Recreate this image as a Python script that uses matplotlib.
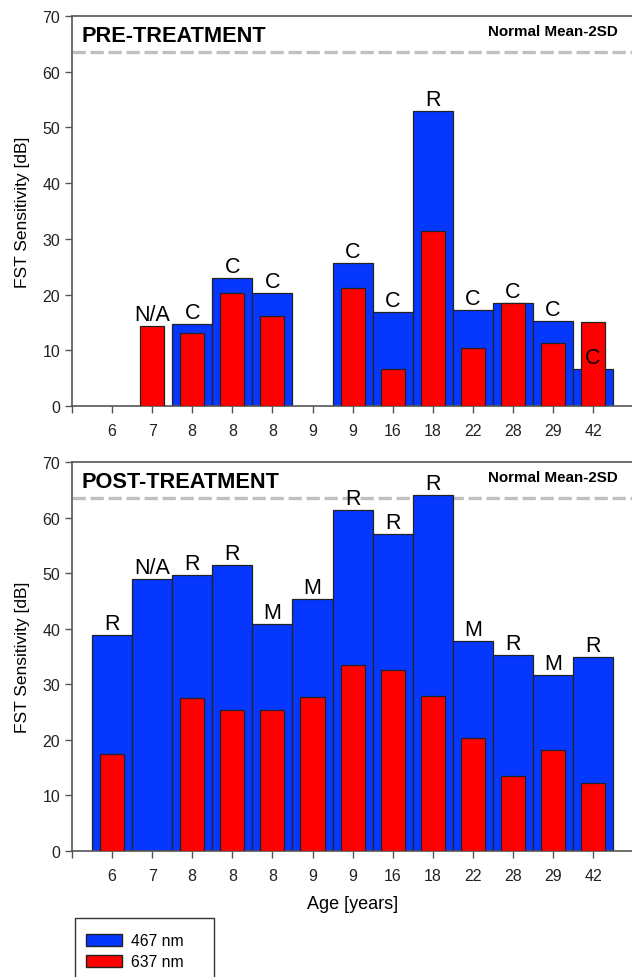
import numpy as np
import matplotlib
matplotlib.use("Agg")
import matplotlib.pyplot as plt
from matplotlib.patches import Patch, Rectangle

plt.rcParams['font.family'] = ['Liberation Sans', 'DejaVu Sans']

# ages (category labels)
ages = ["6", "7", "8", "8", "8", "9", "9", "16", "18", "22", "28", "29", "42"]

# pre-treatment sensitivities [dB]
pre_467 = [np.nan, np.nan, 14.7, 23.0, 20.3, np.nan, 25.7, 16.9, 53.0, 17.3, 18.5, 15.3, 6.6]
pre_637 = [np.nan, 14.4, 13.1, 20.2, 16.1, np.nan, 21.2, 6.6, 31.5, 10.5, 18.5, 11.3, 15.1]
pre_tags = ["", "N/A", "C", "C", "C", "", "C", "C", "R", "C", "C", "C", "C"]

# post-treatment sensitivities [dB]
post_467 = [38.9, 48.9, 49.7, 51.5, 40.9, 45.4, 61.4, 57.0, 64.0, 37.8, 35.3, 31.7, 34.9]
post_637 = [17.4, np.nan, 27.6, 25.3, 25.4, 27.7, 33.5, 32.6, 27.9, 20.4, 13.5, 18.2, 12.2]
post_tags = ["R", "N/A", "R", "R", "M", "M", "R", "R", "R", "M", "R", "M", "R"]

normal_line = 63.5

BLUE = "#0537ff"
RED = "#ff0000"
GRAY = "#555555"

W, H = 632, 978
fig = plt.figure(figsize=(W / 100, H / 100), dpi=100)
ax_pre = fig.add_axes([0.1139, 0.5838, 0.888, 0.3988])
ax_post = fig.add_axes([0.1139, 0.1288, 0.888, 0.3978])

x = np.arange(len(ages))


def draw_panel(ax, blue, red, tags, title):
    ax.bar(x, blue, width=1.0, color=BLUE, edgecolor="#222222", linewidth=0.9, zorder=2)
    ax.bar(x, red, width=0.6, color=RED, edgecolor="#222222", linewidth=0.9, zorder=3)
    ax.axhline(normal_line, color="#c0c0c0", linestyle=(0, (4, 1.4)), linewidth=2.4, zorder=1)
    for i, t in enumerate(tags):
        if not t:
            continue
        top = blue[i] if not np.isnan(blue[i]) else red[i]
        ax.text(i, top + 0.2, t, ha="center", va="bottom", fontsize=15.5, zorder=4)
    ax.text(-0.77, 66.5, title, fontsize=15.7, fontweight="bold", ha="left", va="center")
    ax.text(12.62, 67.3, "Normal Mean-2SD", fontsize=10.9, fontweight="bold", ha="right", va="center")
    ax.set_xlim(-1, 13)
    ax.set_ylim(0, 70)
    ax.set_yticks(np.arange(0, 71, 10))
    ax.set_xticks(np.arange(-1, 13))
    ax.set_xticklabels([""] + ages)
    ax.tick_params(axis="both", labelsize=11.5, colors=GRAY, labelcolor="#222222",
                   length=5, width=1)
    ax.tick_params(axis="x", pad=7)
    for s in ["left", "bottom", "top"]:
        ax.spines[s].set_color(GRAY)
        ax.spines[s].set_linewidth(1.2)
    ax.spines["right"].set_visible(False)
    ax.set_ylabel("FST Sensitivity [dB]", fontsize=12.5, labelpad=9)


draw_panel(ax_pre, pre_467, pre_637, pre_tags, "PRE-TREATMENT")
draw_panel(ax_post, post_467, post_637, post_tags, "POST-TREATMENT")
ax_post.set_xlabel("Age [years]", fontsize=13, labelpad=9)

# legend box runs past the bottom edge of the picture
fig.patches.append(Rectangle((75 / W, -0.02), (214 - 75) / W, 0.02 + (978 - 919) / H,
                             transform=fig.transFigure, facecolor="white",
                             edgecolor="#333333", linewidth=1.0))
handles = [Patch(facecolor=BLUE, edgecolor="#222222", label="467 nm"),
           Patch(facecolor=RED, edgecolor="#222222", label="637 nm")]
fig.legend(handles=handles, loc="upper left", bbox_to_anchor=(83 / W, (978 - 931) / H),
           fontsize=11.3, frameon=False, handlelength=2.3, handleheight=0.8,
           handletextpad=0.55, labelspacing=0.4, borderpad=0.2, borderaxespad=0)

fig.savefig("out.png", dpi=100)
